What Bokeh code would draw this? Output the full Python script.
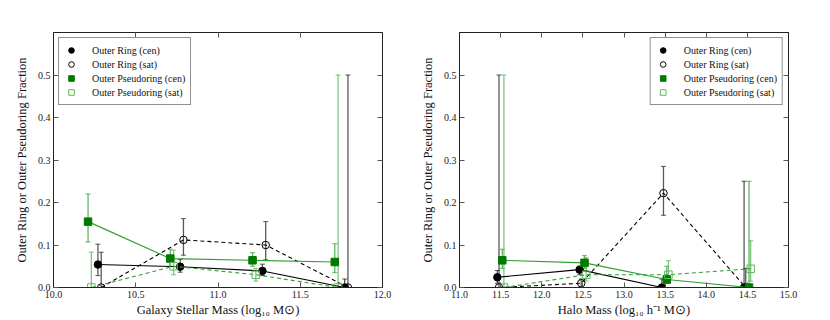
from bokeh.plotting import figure
from bokeh.models import (ColumnDataSource, Whisker, TeeHead, Range1d, FixedTicker,
                          PrintfTickFormatter, LinearAxis, Legend, LegendItem)
from bokeh.layouts import row
from bokeh.embed import file_html
from bokeh.resources import INLINE

# ---------------- data: left panel (stellar mass) ----------------
sm_ring_cen_x = [10.27, 10.77, 11.27, 11.77]
sm_ring_cen_y = [0.054, 0.049, 0.039, 0.0]
sm_ring_cen_lo = [0.028, 0.036, 0.028, 0.0]
sm_ring_cen_hi = [0.102, 0.066, 0.055, 0.02]

sm_ring_sat_x = [10.29, 10.79, 11.29, 11.79]
sm_ring_sat_y = [0.0, 0.112, 0.100, 0.0]
sm_ring_sat_lo = [0.0, 0.076, 0.065, 0.0]
sm_ring_sat_hi = [0.083, 0.162, 0.155, 0.5]

sm_pseudo_cen_x = [10.21, 10.71, 11.21, 11.71]
sm_pseudo_cen_y = [0.155, 0.068, 0.064, 0.060]
sm_pseudo_cen_lo = [0.107, 0.050, 0.050, 0.035]
sm_pseudo_cen_hi = [0.220, 0.090, 0.082, 0.103]

sm_pseudo_sat_x = [10.23, 10.73, 11.23, 11.73]
sm_pseudo_sat_y = [0.0, 0.050, 0.030, 0.0]
sm_pseudo_sat_lo = [0.0, 0.030, 0.015, 0.0]
sm_pseudo_sat_hi = [0.083, 0.088, 0.045, 0.5]

# ---------------- data: right panel (halo mass) ----------------
hm_ring_cen_x = [11.46, 12.46, 13.46, 14.46]
hm_ring_cen_y = [0.024, 0.042, 0.0, 0.0]
hm_ring_cen_lo = [0.010, 0.030, 0.0, 0.0]
hm_ring_cen_hi = [0.040, 0.050, 0.020, 0.25]

hm_ring_sat_x = [11.48, 12.48, 13.48, 14.48]
hm_ring_sat_y = [0.0, 0.010, 0.222, 0.0]
hm_ring_sat_lo = [0.0, 0.0, 0.170, 0.0]
hm_ring_sat_hi = [0.5, 0.020, 0.285, 0.045]

hm_pseudo_cen_x = [11.52, 12.52, 13.52, 14.52]
hm_pseudo_cen_y = [0.064, 0.058, 0.019, 0.0]
hm_pseudo_cen_lo = [0.045, 0.045, 0.010, 0.0]
hm_pseudo_cen_hi = [0.090, 0.075, 0.050, 0.25]

hm_pseudo_sat_x = [11.54, 12.54, 13.54, 14.54]
hm_pseudo_sat_y = [0.0, 0.030, 0.030, 0.044]
hm_pseudo_sat_lo = [0.0, 0.015, 0.010, 0.015]
hm_pseudo_sat_hi = [0.5, 0.070, 0.063, 0.110]

y_ticks = [0.0, 0.1, 0.2, 0.3, 0.4, 0.5]
sm_ticks = [10.0, 10.5, 11.0, 11.5, 12.0]
hm_ticks = [11.0, 11.5, 12.0, 12.5, 13.0, 13.5, 14.0, 14.5, 15.0]

labels = ["Outer Ring (cen)", "Outer Ring (sat)", "Outer Pseudoring (cen)", "Outer Pseudoring (sat)"]

FONT = "'Liberation Serif', 'Times New Roman', serif"
BLACK = "#000000"
GREEN_LINE = "#2e9e2e"
GREEN_FILL = "#007a00"
GREEN_LIGHT = "#5cb85c"


def style_axis(ax, ticks, show_labels=True):
    ax.ticker = FixedTicker(ticks=ticks)
    if show_labels:
        ax.formatter = PrintfTickFormatter(format="%.1f")
    else:
        ax.major_label_overrides = {t: "" for t in ticks}
    ax.major_tick_in = 5
    ax.major_tick_out = 0
    ax.minor_tick_in = 0
    ax.minor_tick_out = 0
    ax.axis_line_color = "#222222"
    ax.major_tick_line_color = "#555555"
    ax.major_label_text_font = FONT
    ax.major_label_text_font_size = "10px"
    ax.major_label_text_color = "#222222"
    ax.major_label_standoff = 3
    ax.axis_label_text_font = FONT
    ax.axis_label_text_font_size = "12.5px"
    ax.axis_label_text_font_style = "normal"
    ax.axis_label_text_color = "#111111"


def make_panel(series, xr, xticks, xlabel, legend_loc, width, border_left, border_right):
    p = figure(width=width, height=320, output_backend="svg", toolbar_location=None,
               x_range=Range1d(*xr), y_range=Range1d(0, 0.6),
               min_border_left=border_left, min_border_right=border_right,
               min_border_top=32, min_border_bottom=33)
    p.grid.visible = False
    p.outline_line_color = "#222222"
    p.background_fill_color = "white"
    p.border_fill_color = "white"

    style_axis(p.xaxis[0], xticks)
    style_axis(p.yaxis[0], y_ticks)
    p.xaxis[0].axis_label = xlabel
    p.xaxis[0].axis_label_standoff = 2
    p.yaxis[0].axis_label = "Outer Ring or Outer Pseudoring Fraction"
    p.yaxis[0].axis_label_standoff = 6

    top = LinearAxis()
    style_axis(top, xticks, show_labels=False)
    p.add_layout(top, "above")
    right = LinearAxis()
    style_axis(right, y_ticks, show_labels=False)
    p.add_layout(right, "right")

    items = []
    for (x, y, lo, hi, kind, label) in series:
        src = ColumnDataSource(dict(x=x, y=y, lo=lo, hi=hi))
        if kind == "ring_cen":
            lc, dash, marker, fill, edge, ec, ea = BLACK, "solid", "circle", BLACK, BLACK, BLACK, 0.65
        elif kind == "ring_sat":
            lc, dash, marker, fill, edge, ec, ea = BLACK, "4 3", "circle", None, BLACK, BLACK, 0.65
        elif kind == "pseudo_cen":
            lc, dash, marker, fill, edge, ec, ea = GREEN_LINE, "solid", "square", GREEN_FILL, GREEN_FILL, GREEN_LINE, 0.75
        else:
            lc, dash, marker, fill, edge, ec, ea = GREEN_LINE, "4 3", "square", None, GREEN_LIGHT, GREEN_LIGHT, 0.8
        p.line("x", "y", source=src, line_color=lc, line_width=1.1, line_dash=dash)
        wh = Whisker(base="x", lower="lo", upper="hi", source=src,
                     line_color=ec, line_alpha=ea, line_width=1.3,
                     upper_head=TeeHead(size=5, line_color=ec, line_alpha=ea, line_width=1),
                     lower_head=TeeHead(size=5, line_color=ec, line_alpha=ea, line_width=1))
        p.add_layout(wh)
        r = p.scatter("x", "y", source=src, marker=marker, size=7.5,
                      fill_color=fill if fill else "white", fill_alpha=1.0 if fill else 0.0,
                      line_color=edge, line_width=1)
        items.append(LegendItem(label=label, renderers=[r]))

    leg = Legend(items=items, location=legend_loc)
    leg.label_text_font = FONT
    leg.label_text_font_size = "10px"
    leg.label_text_color = "#111111"
    leg.border_line_color = "#222222"
    leg.border_line_width = 1
    leg.background_fill_alpha = 1.0
    leg.margin = 5
    leg.padding = 5
    leg.spacing = 0
    leg.label_height = 14
    leg.glyph_height = 14
    leg.glyph_width = 14
    leg.label_standoff = 14
    p.add_layout(leg)
    return p


left_series = [
    (sm_ring_cen_x, sm_ring_cen_y, sm_ring_cen_lo, sm_ring_cen_hi, "ring_cen", labels[0]),
    (sm_ring_sat_x, sm_ring_sat_y, sm_ring_sat_lo, sm_ring_sat_hi, "ring_sat", labels[1]),
    (sm_pseudo_cen_x, sm_pseudo_cen_y, sm_pseudo_cen_lo, sm_pseudo_cen_hi, "pseudo_cen", labels[2]),
    (sm_pseudo_sat_x, sm_pseudo_sat_y, sm_pseudo_sat_lo, sm_pseudo_sat_hi, "pseudo_sat", labels[3]),
]
right_series = [
    (hm_ring_cen_x, hm_ring_cen_y, hm_ring_cen_lo, hm_ring_cen_hi, "ring_cen", labels[0]),
    (hm_ring_sat_x, hm_ring_sat_y, hm_ring_sat_lo, hm_ring_sat_hi, "ring_sat", labels[1]),
    (hm_pseudo_cen_x, hm_pseudo_cen_y, hm_pseudo_cen_lo, hm_pseudo_cen_hi, "pseudo_cen", labels[2]),
    (hm_pseudo_sat_x, hm_pseudo_sat_y, hm_pseudo_sat_lo, hm_pseudo_sat_hi, "pseudo_sat", labels[3]),
]

p1 = make_panel(left_series, (10.0, 12.0), sm_ticks,
                "Galaxy Stellar Mass (log\u2081\u2080 M\u2299)", "top_left", 408, 53, 26)
p2 = make_panel(right_series, (11.0, 15.0), hm_ticks,
                "Halo Mass (log\u2081\u2080 h\u207b\u00b9 M\u2299)", "top_right", 400, 51, 20)

layout = row(p1, p2, spacing=0)
open("out.html", "w").write(file_html(layout, INLINE))
